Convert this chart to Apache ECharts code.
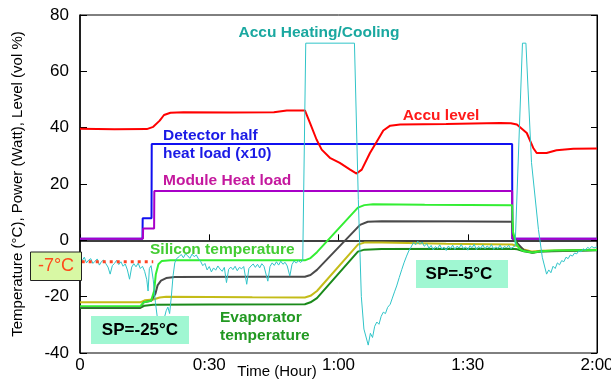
<!DOCTYPE html>
<html><head><meta charset="utf-8">
<script src="https://cdn.jsdelivr.net/npm/echarts@6/dist/echarts.min.js"></script>
<style>html,body{margin:0;padding:0;background:#fff}#c{width:611px;height:380px}</style>
</head><body><div id="c"></div>
<script>
// time in minutes, value in °C / W / vol%
const xTickLabels = ['0','0:30','1:00','1:30','2:00'];
const yTicks = [-40,-20,0,20,40,60,80];

const accuLevel = [[0,39.6],[8,39.4],[15.5,39.5],[17,40.3],[18.5,42.5],[19.5,44.5],[21,45.3],[24,45.5],[35,45.4],[45,45.5],[48,46.1],[52.2,46.1],[53.4,41.6],[54.9,35.8],[56.1,32.2],[58,29.3],[60.3,27.5],[62.7,25.1],[64.2,23.7],[65.4,25.1],[67.3,31],[68.9,35.1],[70.4,39],[72,40.7],[74.3,41.1],[85,41.3],[97.5,41.7],[100,41.6],[101.4,41.1],[103.7,38.1],[105.2,32.8],[106,31],[108.3,31],[110.6,32],[114.5,32.5],[120,32.6]];

const detectorLoad = [[0,0.6],[14.5,0.6],[14.55,7.8],[16.6,7.8],[16.65,34.2],[100.3,34.2],[100.35,0.6],[120,0.6]];

const moduleLoad = [[0,0.6],[14.6,0.6],[14.65,4.2],[17.2,4.2],[17.25,17.5],[100.3,17.5],[100.35,0.6],[120,0.6]];

const siliconTemp = [[0,-23.4],[14,-23.4],[14.8,-22.0],[16.5,-21.5],[17.2,-18],[17.6,-12],[18.2,-8.5],[19,-7.3],[21,-7.1],[40,-7.1],[52.2,-7.1],[53.5,-6.3],[55,-4.2],[64.5,11.6],[66,12.5],[68,12.8],[80,12.6],[100.3,12.5],[100.5,3],[101.2,-1],[102,-3],[103,-3.8],[105,-4.3],[107,-3.9],[110,-3.6],[120,-3.4]];

const moduleTemp = [[0,-23.8],[14,-23.8],[14.8,-22],[16.5,-21.5],[17.5,-19],[18,-16],[18.8,-14.3],[20,-13.4],[22,-13],[40,-12.9],[52.2,-12.9],[53.5,-12.3],[55,-10.5],[65,5.5],[66.8,6.6],[70,6.8],[100.3,6.6],[100.5,2],[101.5,-1],[103,-3.5],[105,-4.3],[107,-3.9],[120,-3.4]];

const returnTemp = [[0,-22],[14,-22],[15,-21.3],[17,-21],[18.5,-20.3],[20,-20],[40,-20.2],[52.2,-20.3],[53.5,-19.7],[55,-18],[64.5,-1.5],[66,-0.8],[70,-0.8],[85,-1.2],[100.3,-1.5],[101.5,-2],[103,-3.2],[105,-4],[107,-3.7],[120,-3.3]];

const evaporatorTemp = [[0,-24],[14,-24],[15,-23.2],[17,-22.9],[30,-22.8],[52.2,-22.7],[53.5,-22],[55,-20.5],[64.5,-4],[66,-3.3],[70,-3.1],[100.3,-3],[101.5,-3.2],[103,-3.9],[105,-4.4],[107,-4],[120,-3.5]];

const accuHeatCool = [[0,-6.5],[0.5,-7.2],[1,-6],[1.5,-8],[2,-7],[2.5,-6.5],[3,-8.2],[3.5,-7.4],[4,-6.6],[4.5,-8.8],[5,-7.5],[5.5,-7],[6,-8.3],[6.5,-9.5],[7,-12],[7.5,-9],[8,-8.2],[8.5,-7.1],[9,-8.6],[9.5,-7.6],[10,-9.2],[10.5,-8.4],[11,-10.5],[11.5,-13.8],[12,-9.5],[12.5,-8.3],[13,-9.4],[13.5,-8.1],[14,-10],[14.5,-9.2],[15,-11],[15.5,-14],[15.8,-18],[16.1,-10],[16.5,-9],[17,-14],[17.5,-22],[18,-28],[18.5,-30],[19,-31],[19.5,-28],[20,-25],[20.4,-23.7],[20.8,-26],[21.2,-20],[21.6,-12.6],[22,-8],[22.4,-6.5],[23,-5.8],[23.5,-5],[24,-6.2],[24.5,-4.8],[25,-5.5],[25.5,-6.4],[26,-4.9],[26.5,-5.8],[27,-5.2],[27.5,-6.6],[28,-7.5],[28.5,-9],[29,-8.2],[29.5,-10.5],[30,-9.3],[30.5,-11.2],[31,-9.8],[31.5,-10.6],[32,-9.1],[32.5,-10.2],[33,-11],[33.5,-9.6],[34,-15],[34.5,-10.3],[35,-9.5],[35.5,-10.4],[36,-9.2],[36.5,-10.8],[37,-9.6],[37.5,-10.1],[38,-9.3],[38.7,-15.6],[39.2,-10],[39.7,-9.1],[40.2,-8.4],[40.7,-9.6],[41.2,-8.5],[41.7,-9.8],[42.2,-8.3],[42.7,-9.2],[43.1,-8.7],[43.6,-14.5],[44.1,-9.3],[44.6,-8],[45.1,-8.9],[45.6,-7.6],[46.1,-8.8],[46.6,-7.4],[47.1,-8.5],[47.6,-7.8],[48.1,-9.1],[48.7,-12.7],[49.2,-8.6],[49.7,-7.3],[50.2,-8.1],[50.7,-7.2],[51.2,-7.9],[51.7,-7.1],[52.1,-7.5],[52.4,70],[63.7,70],[64.6,14.5],[65.3,-20],[65.9,-31.5],[66.9,-37.2],[67.4,-33],[67.9,-34.5],[68.4,-30.5],[68.9,-29],[69.4,-29.8],[69.9,-27],[70.4,-25.5],[70.9,-26],[71.4,-23.8],[72,-22.7],[72.5,-20.5],[73,-18.3],[73.5,-16.2],[74.1,-13.2],[74.7,-10.3],[75.2,-8],[75.8,-5.6],[76.3,-3.8],[76.8,-2.5],[77.4,-0.8],[77.9,-1.6],[78.4,-0.3],[78.9,-1.4],[79.4,-0.6],[79.9,-2.1],[80.5,-1.2],[81,-2.8],[81.5,-1.8],[82,-3.4],[82.5,-2.2],[83,-2.9],[83.5,-1.6],[84,-3.1],[84.5,-2.4],[85,-3.6],[85.5,-2],[86,-2.9],[86.5,-1.7],[87,-3.2],[87.5,-2.1],[88,-2.7],[88.5,-1.5],[89,-3],[89.5,-2.3],[90,-3.5],[90.5,-1.9],[91,-2.6],[91.5,-1.4],[92,-3.3],[92.5,-2.2],[93,-2.8],[93.5,-1.6],[94,-3],[94.5,-2],[95,-2.7],[95.5,-1.5],[96,-3.2],[96.5,-2.3],[97,-2.9],[97.5,-1.7],[98,-3.1],[98.5,-2.2],[99,-2.6],[99.5,-1.8],[100,-3],[100.5,-2.4],[101,-2],[102.7,70],[103.5,70],[104.8,27.6],[106.4,3.9],[107.3,-6],[108.3,-12],[108.8,-10.5],[109.3,-11.5],[109.8,-9.2],[110.3,-10],[110.8,-8],[111.3,-8.7],[111.8,-7.2],[112.3,-7.6],[112.8,-6],[113.3,-6.5],[113.8,-5.2],[114.3,-5.6],[114.8,-4.5],[115.3,-4.8],[115.8,-3.7],[116.3,-4.1],[116.8,-3],[117.3,-3.5],[117.8,-2.5],[118.3,-2.9],[118.8,-2.2],[119.3,-2.7],[120,-2.3]];

const refLine = [[0.4,-7.6],[17,-7.6]];

const FONT = 'Liberation Sans, Arial, sans-serif';
const chart = echarts.init(document.getElementById('c'), null, {renderer:'canvas'});

function ln(name, data, color, width, z, extra){
  return Object.assign({name, type:'line', data, showSymbol:false, symbol:'none', smooth:false,
    lineStyle:{color, width}, itemStyle:{color}, z, animation:false}, extra||{});
}

const txt = (text, x, y, color, size, bold, align) => ({
  type:'text', z:100, style:{text, x, y, fill:color, font:(bold?'bold ':'')+size+'px '+FONT,
  textAlign:align||'left', textVerticalAlign:'middle'}
});

chart.setOption({
  animation:false,
  grid:{left:80, right:14, top:15, bottom:27, show:true, borderColor:'#000', borderWidth:1,
        containLabel:false, outerBoundsMode:'none'},
  xAxis:{type:'value', min:0, max:120, interval:30,
    axisLine:{show:true, lineStyle:{color:'#000', width:1.5}},
    axisTick:{show:true, inside:true, length:6, lineStyle:{color:'#000'}},
    axisLabel:{color:'#000', fontSize:17, fontFamily:FONT, margin:4, hideOverlap:false,
      formatter:v=>xTickLabels[Math.round(v/30)]},
    splitLine:{show:false}},
  yAxis:[
    {type:'value', min:-40, max:80, interval:20, position:'left',
     axisLine:{show:true, lineStyle:{color:'#000', width:1.5}},
     axisTick:{show:true, inside:true, length:7, lineStyle:{color:'#000'}},
     axisLabel:{color:'#000', fontSize:17, fontFamily:FONT, margin:11},
     splitLine:{show:false},
     name:'Temperature (°C), Power (Watt), Level (vol %)', nameLocation:'middle', nameGap:55,
     nameTextStyle:{color:'#000', fontSize:15, fontFamily:FONT}},
    {type:'value', min:-40, max:80, interval:20, position:'right',
     axisLine:{show:true, lineStyle:{color:'#000', width:1}},
     axisTick:{show:true, inside:true, length:6, lineStyle:{color:'#000'}},
     axisLabel:{show:false}, splitLine:{show:false}}
  ],
  series:[
    ln('Detector half heat load (x10)', detectorLoad, '#1010f0', 2, 2),
    ln('Module Heat load', moduleLoad, '#a800c8', 2, 3),
    ln('Accu level', accuLevel, '#ff0000', 2, 4),
    ln('Evaporator temperature', evaporatorTemp, '#1a8a1a', 2, 5),
    ln('Return temperature', returnTemp, '#c4bc18', 2, 6),
    ln('Module temperature', moduleTemp, '#4a4a4a', 2, 7),
    ln('Silicon temperature', siliconTemp, '#33ee33', 2, 8),
    ln('Accu Heating/Cooling', accuHeatCool, '#30c4c8', 1, 9),
    ln('-7°C reference', refLine, '#ff4422', 3, 10, {lineStyle:{color:'#ff4422', width:3, type:[3,4]}})
  ],
  graphic:[
    txt('Accu Heating/Cooling', 319, 33, '#1aa8a0', 15.5, true, 'center'),
    txt('Accu level', 441, 116, '#ff1a1a', 15.5, true, 'center'),
    txt('Detector half', 163, 136, '#1a1ae6', 15.5, true),
    txt('heat load (x10)', 163, 153.5, '#1a1ae6', 15.5, true),
    txt('Module Heat load', 163, 181, '#c4189e', 15.5, true),
    txt('Silicon temperature', 150, 250, '#44cc33', 15.5, true),
    txt('Evaporator', 220, 317.5, '#229922', 15.5, true),
    txt('temperature', 220, 336, '#229922', 15.5, true),
    {type:'rect', z:99, shape:{x:91, y:316, width:98, height:28}, style:{fill:'#a0f7d2'}},
    txt('SP=-25°C', 140, 330.5, '#000', 17, true, 'center'),
    {type:'rect', z:99, shape:{x:416, y:260, width:92, height:28}, style:{fill:'#a0f7d2'}},
    txt('SP=-5°C', 459, 274.5, '#000', 17, true, 'center'),
    {type:'rect', z:99, shape:{x:30.5, y:252, width:51, height:28.5}, style:{fill:'#d8f8a4', stroke:'#222', lineWidth:1}},
    txt('-7°C', 56, 266.5, '#ff4a1a', 18, false, 'center'),
    txt('Time (Hour)', 277, 371.5, '#000', 15, false, 'center')
  ]
});
</script></body></html>
